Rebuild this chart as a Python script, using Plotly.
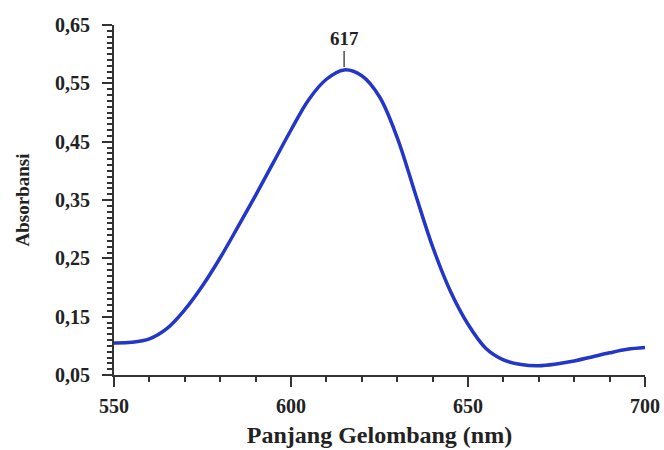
import plotly.graph_objects as go

wavelength = [550, 555, 560, 565, 570, 575, 580, 585, 590, 595, 600, 605, 610, 615,
              620, 625, 630, 635, 640, 645, 650, 655, 660, 665, 670, 675, 680, 685,
              690, 695, 700]
absorbance = [0.105, 0.106, 0.112, 0.130, 0.162, 0.203, 0.251, 0.304, 0.358, 0.414,
              0.470, 0.522, 0.557, 0.573, 0.563, 0.527, 0.457, 0.363, 0.270, 0.194,
              0.137, 0.096, 0.076, 0.068, 0.066, 0.069, 0.074, 0.081, 0.088, 0.094,
              0.097]
y_tickvals = [0.05, 0.15, 0.25, 0.35, 0.45, 0.55, 0.65]
y_ticktext = ["0,05", "0,15", "0,25", "0,35", "0,45", "0,55", "0,65"]
x_tickvals = [550, 600, 650, 700]
peak_label = "617"
peak_x = 615
peak_y = 0.573

font_family = "Liberation Serif, Times New Roman, serif"

fig = go.Figure()
fig.add_trace(go.Scatter(
    x=wavelength, y=absorbance, mode="lines",
    line=dict(color="#2236c8", width=3.5, shape="spline", smoothing=1.0),
    showlegend=False, hoverinfo="skip"))

fig.add_annotation(
    x=peak_x, y=peak_y, text="<b>" + peak_label + "</b>",
    showarrow=True, arrowhead=0, arrowwidth=1.3, arrowcolor="#333",
    ax=0, ay=-31, standoff=3,
    font=dict(family=font_family, size=19, color="#222"))

axis_common = dict(
    showline=True, linecolor="#333", linewidth=2, mirror=False,
    showgrid=False, zeroline=False, automargin=False,
    ticks="outside", ticklen=10, tickwidth=2, tickcolor="#333",
    tickfont=dict(family=font_family, size=20, color="#222", weight="bold"),
)

fig.update_xaxes(
    range=[550, 700], tickvals=x_tickvals, ticklabelstandoff=2,
    minor=dict(ticks="outside", ticklen=5, tickwidth=1.5, tickcolor="#333",
               dtick=10, tick0=550),
    title=dict(text="<b>Panjang Gelombang (nm)</b>", standoff=10,
               font=dict(family=font_family, size=24, color="#222")),
    **axis_common)
fig.update_yaxes(
    range=[0.05, 0.65], tickvals=y_tickvals, ticktext=y_ticktext,
    ticklabelstandoff=8,
    minor=dict(ticks="outside", ticklen=5, tickwidth=1.5, tickcolor="#333",
               dtick=0.01, tick0=0.05),
    title=dict(text="<b>Absorbansi</b>", standoff=20,
               font=dict(family=font_family, size=19, color="#222")),
    **axis_common)

fig.update_layout(
    width=664, height=450,
    margin=dict(l=114, r=19, t=25, b=75),
    paper_bgcolor="white", plot_bgcolor="white",
    font=dict(family=font_family),
)

fig.write_html("out.html", config={"displayModeBar": False},
               post_script="document.body.style.margin='0';")
